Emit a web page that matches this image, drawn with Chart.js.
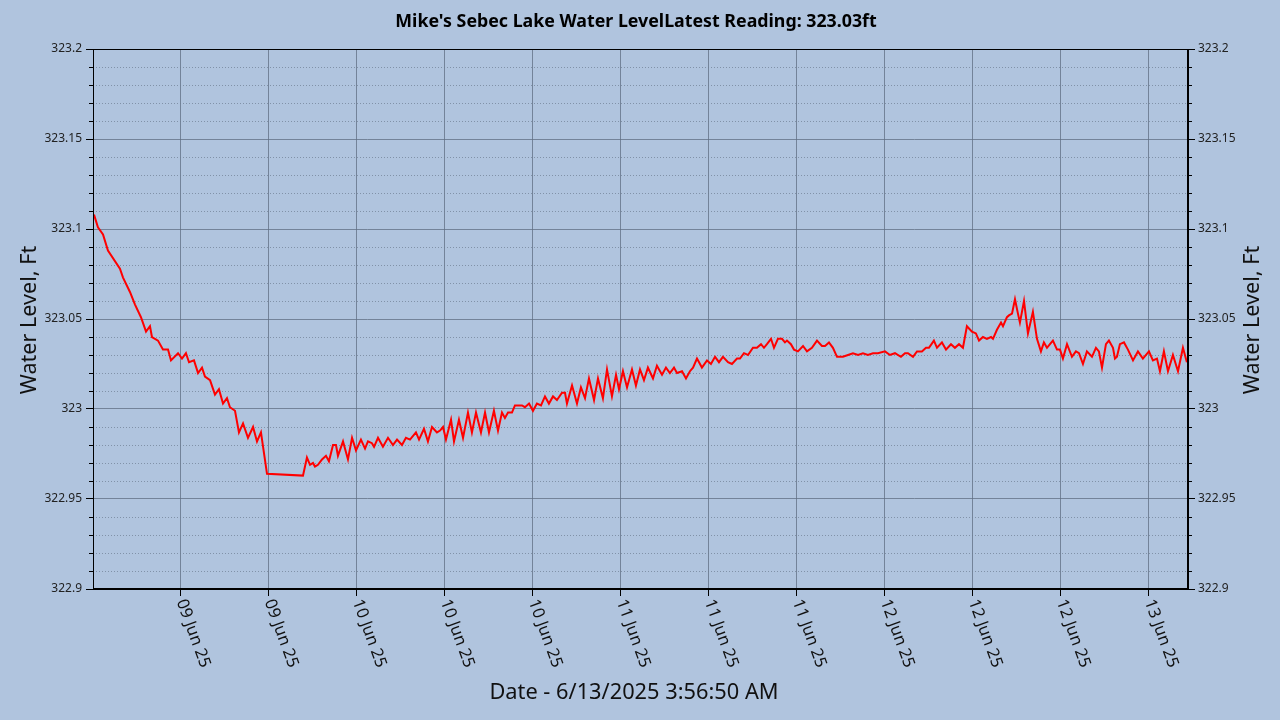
<!DOCTYPE html>
<html>
<head>
<meta charset="utf-8">
<script src="https://cdn.jsdelivr.net/npm/chart.js@4"></script>
<style>
  html, body { margin: 0; padding: 0; background: #B0C4DE; }
  canvas { display: block; }
</style>
</head>
<body>
<canvas id="c" width="1280" height="720"></canvas>
<script>
// ---- DATA ----
// hours since 09 Jun 2025 00:00
const hours = [
  0.09,0.45,0.91,1.36,2.45,2.73,3.36,3.82,4.36,4.82,5.18,5.36,5.91,6.36,6.82,7.09,7.73,8.09,8.45,8.73,
  9.18,9.55,9.91,10.18,10.64,11.09,11.45,11.82,12.18,12.45,12.91,13.27,13.64,14.09,14.55,14.91,15.27,15.82,
  19.09,19.45,19.73,20.0,20.18,20.45,20.82,21.18,21.45,21.82,22.09,22.27,22.73,23.18,23.55,23.91,24.36,24.73,
  25.0,25.36,25.55,25.91,26.36,26.82,27.27,27.64,28.09,28.45,28.82,29.36,29.64,30.09,30.45,30.82,31.27,31.55,
  31.82,32.09,32.55,32.82,33.27,33.64,34.09,34.45,34.82,35.27,35.64,36.0,36.45,36.82,37.18,37.45,37.73,38.09,
  38.36,39.0,39.27,39.64,40.0,40.36,40.73,41.09,41.45,41.82,42.18,42.64,42.91,43.09,43.55,44.0,44.36,44.73,
  45.09,45.55,45.91,46.36,46.73,47.18,47.55,47.82,48.18,48.55,49.0,49.36,49.73,50.09,50.45,50.91,51.27,51.73,
  52.09,52.45,52.82,53.09,53.55,53.91,54.27,54.55,54.91,55.36,55.82,56.18,56.55,56.91,57.27,57.73,58.09,58.55,
  58.82,59.18,59.55,60.0,60.36,60.73,61.0,61.27,61.64,61.91,62.27,62.64,62.91,63.09,63.45,63.73,64.09,64.55,
  64.91,65.36,65.82,66.27,66.55,66.91,67.27,67.64,68.18,68.64,69.09,69.55,70.0,70.45,70.91,71.36,72.0,72.45,
  72.91,73.45,73.82,74.09,74.55,74.91,75.36,75.73,76.0,76.45,76.73,77.18,77.55,78.0,78.36,78.73,79.09,79.45,
  79.91,80.27,80.55,80.91,81.27,81.64,81.82,82.18,82.55,82.73,83.09,83.27,83.55,83.82,84.09,84.27,84.64,85.0,
  85.45,85.82,86.18,86.45,86.73,87.0,87.27,87.64,87.91,88.18,88.55,89.0,89.36,89.64,90.0,90.36,90.82,91.18,
  91.45,91.73,92.09,92.36,92.73,92.91,93.09,93.36,93.73,94.09,94.55,95.0,95.45,96.0,96.36,96.73,97.0,97.36,
  97.73,98.18,98.64,99.09,99.45
];
const levels = [
  323.108,323.101,323.097,323.088,323.078,323.073,323.065,323.058,323.051,323.043,323.046,323.040,323.038,323.033,323.033,323.027,323.031,323.028,323.031,323.026,
  323.027,323.020,323.023,323.018,323.016,323.008,323.011,323.003,323.006,323.001,322.999,322.987,322.992,322.984,322.990,322.982,322.987,322.964,
  322.963,322.973,322.969,322.970,322.968,322.969,322.972,322.974,322.971,322.980,322.980,322.974,322.982,322.972,322.984,322.977,322.983,322.978,
  322.982,322.981,322.979,322.984,322.979,322.984,322.980,322.983,322.980,322.984,322.983,322.987,322.983,322.989,322.982,322.990,322.987,322.988,
  322.990,322.983,322.994,322.982,322.994,322.984,322.998,322.987,322.998,322.987,322.998,322.987,322.999,322.988,322.998,322.995,322.998,322.998,
  323.002,323.002,323.001,323.003,322.999,323.003,323.002,323.007,323.003,323.007,323.005,323.009,323.009,323.003,323.013,323.003,323.012,323.006,
  323.017,323.005,323.017,323.006,323.022,323.007,323.019,323.011,323.021,323.012,323.022,323.013,323.022,323.016,323.023,323.017,323.024,323.019,
  323.023,323.020,323.023,323.020,323.021,323.017,323.021,323.023,323.028,323.023,323.027,323.025,323.029,323.026,323.029,323.026,323.025,323.028,
  323.028,323.031,323.030,323.034,323.034,323.036,323.034,323.036,323.039,323.034,323.039,323.039,323.037,323.038,323.036,323.033,323.032,323.035,
  323.032,323.034,323.038,323.035,323.035,323.037,323.034,323.029,323.029,323.030,323.031,323.030,323.031,323.030,323.031,323.031,323.032,323.030,
  323.031,323.029,323.031,323.031,323.029,323.032,323.032,323.034,323.034,323.038,323.034,323.037,323.033,323.036,323.034,323.036,323.034,323.046,
  323.043,323.042,323.038,323.040,323.039,323.040,323.039,323.044,323.048,323.046,323.051,323.052,323.053,323.061,323.053,323.048,323.060,323.042,
  323.054,323.039,323.032,323.037,323.034,323.036,323.038,323.033,323.033,323.028,323.036,323.029,323.032,323.031,323.025,323.032,323.029,323.034,
  323.032,323.023,323.036,323.038,323.034,323.028,323.029,323.036,323.037,323.033,323.027,323.032,323.028,323.032,323.027,323.028,323.021,323.032,
  323.021,323.030,323.021,323.034,323.026
];
const tickHours = [8, 16, 24, 32, 40, 48, 56, 64, 72, 80, 88, 96];
const tickLabels = ['09 Jun 25','09 Jun 25','10 Jun 25','10 Jun 25','10 Jun 25','11 Jun 25','11 Jun 25','11 Jun 25','12 Jun 25','12 Jun 25','12 Jun 25','13 Jun 25'];
const yMin = 322.9, yMax = 323.2, yMajor = 0.05, yMinor = 0.01;
const titleText = "Mike's Sebec Lake Water LevelLatest Reading: 323.03ft";
const xTitleText = 'Date - 6/13/2025 3:56:50 AM';
const yTitleText = 'Water Level, Ft';

// ---- STYLE ----
const FONT = "'Noto Sans', 'Open Sans', sans-serif";
const majorGrid = 'rgba(95,110,130,0.75)';
const minorGrid = 'rgba(110,125,145,0.7)';

const extras = {
  id: 'extras',
  beforeDatasetsDraw(chart) {
    const {ctx, chartArea: a} = chart;
    const ys = chart.scales.y;
    ctx.save();
    ctx.lineWidth = 1;
    const nMinor = Math.round((yMax - yMin) / yMinor);
    for (let i = 1; i < nMinor; i++) {
      if (i % Math.round(yMajor / yMinor) === 0) continue;
      const v = yMin + i * yMinor;
      const y = Math.round(ys.getPixelForValue(v)) + 0.5;
      ctx.strokeStyle = minorGrid;
      ctx.setLineDash([1, 2]);
      ctx.beginPath(); ctx.moveTo(a.left, y); ctx.lineTo(a.right, y); ctx.stroke();
      ctx.setLineDash([]);
      ctx.strokeStyle = '#000';
      ctx.beginPath(); ctx.moveTo(a.left - 4, y); ctx.lineTo(a.left, y); ctx.stroke();
      ctx.beginPath(); ctx.moveTo(a.right, y); ctx.lineTo(a.right + 4, y); ctx.stroke();
    }
    ctx.restore();
  },
  afterDraw(chart) {
    const {ctx, chartArea: a} = chart;
    const xs = chart.scales.x;
    ctx.save();
    // frame
    ctx.strokeStyle = '#000';
    ctx.lineWidth = 1;
    ctx.strokeRect(Math.round(a.left) + 0.5, Math.round(a.top) + 0.5, Math.round(a.right - a.left) - 1, Math.round(a.bottom - a.top) - 1);
    // title
    ctx.fillStyle = '#000';
    ctx.font = "bold 17.8px " + FONT;
    ctx.textAlign = 'center';
    ctx.textBaseline = 'middle';
    ctx.fillText(titleText, 636, 22);
    // x tick labels (rotated clockwise)
    ctx.font = "16.5px " + FONT;
    ctx.fillStyle = '#111';
    ctx.textAlign = 'left';
    ctx.textBaseline = 'middle';
    tickHours.forEach((h, i) => {
      const x = xs.getPixelForValue(h);
      ctx.save();
      ctx.translate(x, a.bottom + 11);
      ctx.rotate(70 * Math.PI / 180);
      ctx.fillText(tickLabels[i], 0, 0);
      ctx.restore();
    });
    // x title
    ctx.font = "21.8px " + FONT;
    ctx.textAlign = 'center';
    ctx.fillText(xTitleText, 634, 693);
    // y titles (both read bottom-to-top)
    ctx.font = "21.6px " + FONT;
    const cy = (a.top + a.bottom) / 2 + 1;
    [30, 1253].forEach(x => {
      ctx.save();
      ctx.translate(x, cy);
      ctx.rotate(-Math.PI / 2);
      ctx.fillText(yTitleText, 0, 0);
      ctx.restore();
    });
    ctx.restore();
  }
};

const fmt = v => String(+(+v).toFixed(2));

const yCommon = {
  min: yMin, max: yMax,
  ticks: { stepSize: yMajor, callback: fmt, font: { size: 12, family: FONT }, color: '#222' },
  border: { color: '#000', width: 1 },
};

new Chart(document.getElementById('c'), {
  type: 'line',
  data: {
    datasets: [{
      data: hours.map((h, i) => ({ x: h, y: levels[i] })),
      borderColor: '#ff0000',
      borderWidth: 2,
      pointRadius: 0,
      tension: 0,
      fill: false
    }]
  },
  options: {
    responsive: false,
    animation: false,
    devicePixelRatio: 1,
    layout: { padding: { top: 49, left: 0, right: 0, bottom: 0 } },
    plugins: { legend: { display: false }, tooltip: { enabled: false }, title: { display: false } },
    scales: {
      x: {
        type: 'linear', min: 0, max: 99.55,
        afterBuildTicks: s => { s.ticks = tickHours.map(v => ({ value: v })); },
        ticks: { display: false },
        grid: { color: majorGrid, lineWidth: 1, drawTicks: true, tickLength: 7, tickColor: '#000' },
        border: { color: '#000', width: 1 },
        afterFit: s => { s.height = 131; }
      },
      y: Object.assign({}, yCommon, {
        position: 'left',
        ticks: Object.assign({}, yCommon.ticks, { padding: 4 }),
        grid: { color: majorGrid, lineWidth: 1, drawTicks: true, tickLength: 7, tickColor: '#000' },
        afterFit: s => { s.width = 93; }
      }),
      y2: Object.assign({}, yCommon, {
        position: 'right',
        ticks: Object.assign({}, yCommon.ticks, { padding: 3 }),
        grid: { drawOnChartArea: false, drawTicks: true, tickLength: 7, tickColor: '#000' },
        afterFit: s => { s.width = 92; }
      })
    }
  },
  plugins: [extras]
});
</script>
</body>
</html>
